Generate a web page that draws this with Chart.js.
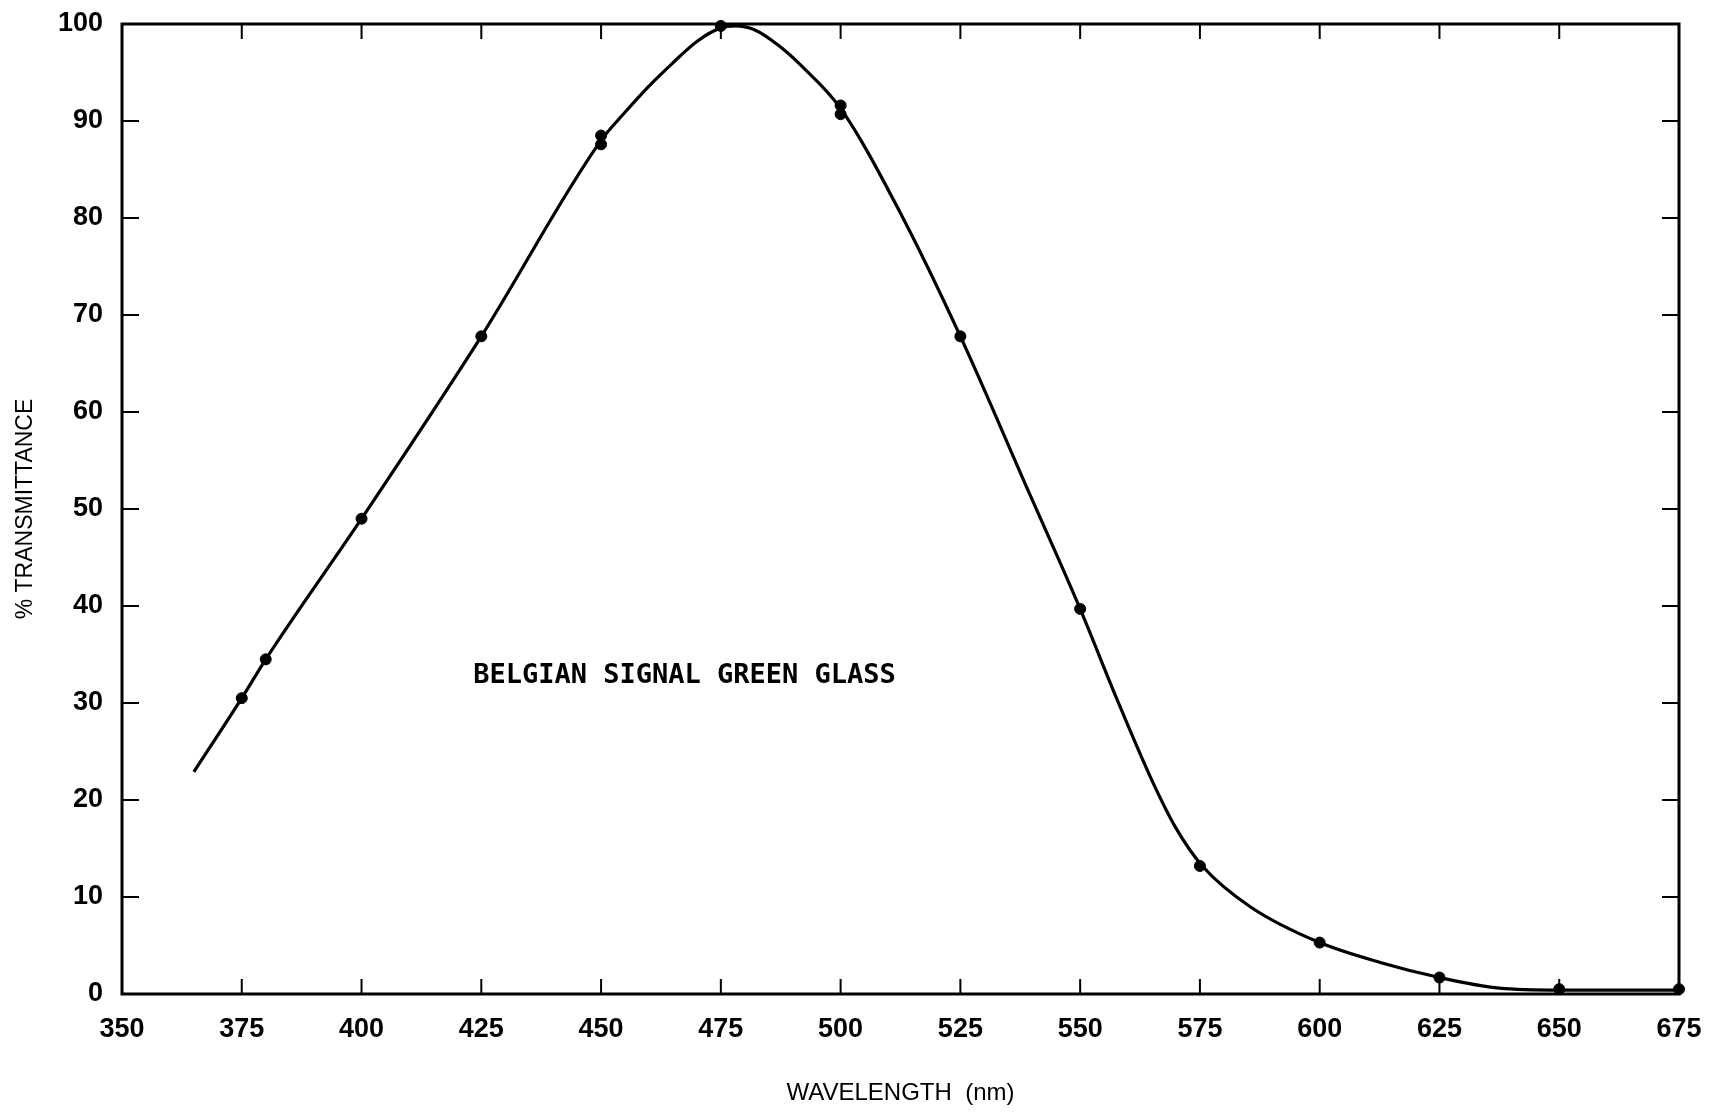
<!DOCTYPE html>
<html>
<head>
<meta charset="utf-8">
<script src="https://cdn.jsdelivr.net/npm/chart.js@4.4.1/dist/chart.umd.min.js"></script>
<style>
  body { margin: 0; background: #fff; }
  canvas { display: block; }
</style>
</head>
<body>
<canvas id="myChart" width="1729" height="1113"></canvas>
<script>
// measured points (dots)
const pointNm = [375, 380, 400, 425, 450, 450, 475, 500, 500, 525, 550, 575, 600, 625, 650, 675];
const pointPct = [30.5, 34.5, 49.0, 67.8, 88.5, 87.6, 99.8, 91.6, 90.7, 67.8, 39.7, 13.2, 5.3, 1.7, 0.5, 0.5];

// drawn curve
const curveNm = [365, 375, 380, 400, 425, 450, 455, 460, 465, 470, 475, 478, 482, 487, 492, 500, 512.5, 525, 539.5, 550, 557.5, 565, 570, 575.5, 585.5, 600, 613, 625, 637.5, 650, 675];
const curvePct = [22.9, 30.5, 34.5, 49.0, 67.8, 88.0, 90.9, 93.6, 96.0, 98.2, 99.6, 99.8, 99.4, 97.8, 95.6, 91.3, 80.5, 67.8, 51.5, 39.7, 30.6, 22.0, 17.1, 13.2, 9.0, 5.3, 3.2, 1.7, 0.6, 0.4, 0.4];

const labelText = "BELGIAN SIGNAL GREEN GLASS";
const xTitle = "WAVELENGTH  (nm)";
const yTitle = "% TRANSMITTANCE";

const tickFont = { family: "'Liberation Sans', Arial, sans-serif", size: 27, weight: "bold" };
const titleFont = { family: "'Liberation Sans', Arial, sans-serif", size: 24, weight: "normal" };

// frame + inward ticks on all four sides
const frame = {
  id: "frame",
  beforeDatasetsDraw(chart) {
    const { ctx, chartArea: a, scales: { x, y } } = chart;
    ctx.save();
    ctx.strokeStyle = "#000";
    ctx.lineWidth = 2;
    ctx.beginPath();
    x.ticks.forEach(t => {
      const px = x.getPixelForValue(t.value);
      ctx.moveTo(px, a.bottom); ctx.lineTo(px, a.bottom - 15);
      ctx.moveTo(px, a.top); ctx.lineTo(px, a.top + 15);
    });
    y.ticks.forEach(t => {
      const py = y.getPixelForValue(t.value);
      ctx.moveTo(a.left, py); ctx.lineTo(a.left + 17, py);
      ctx.moveTo(a.right, py); ctx.lineTo(a.right - 17, py);
    });
    ctx.stroke();
    ctx.lineWidth = 3;
    ctx.strokeRect(a.left, a.top, a.right - a.left, a.bottom - a.top);
    ctx.restore();
  }
};

const annotation = {
  id: "annotation",
  afterDatasetsDraw(chart) {
    const { ctx, scales: { x, y } } = chart;
    ctx.save();
    ctx.font = "bold 27px 'DejaVu Sans Mono', monospace";
    ctx.fillStyle = "#000";
    ctx.textAlign = "left";
    ctx.textBaseline = "middle";
    ctx.fillText(labelText, x.getPixelForValue(423.3), y.getPixelForValue(32.8));
    ctx.restore();
  }
};

const data = {
  datasets: [
    {
      type: "line",
      label: "curve",
      data: curveNm.map((v, i) => ({ x: v, y: curvePct[i] })),
      borderColor: "#000",
      borderWidth: 3.2,
      pointRadius: 0,
      cubicInterpolationMode: "monotone",
      clip: false,
    },
    {
      type: "scatter",
      label: "points",
      data: pointNm.map((v, i) => ({ x: v, y: pointPct[i] })),
      backgroundColor: "#000",
      borderColor: "#000",
      pointRadius: 5.5,
      clip: false,
    },
  ],
};

const config = {
  data: data,
  options: {
    responsive: false,
    animation: false,
    layout: { padding: { top: 24, right: 50, left: 0, bottom: 0 } },
    plugins: { legend: { display: false }, tooltip: { enabled: false } },
    scales: {
      x: {
        type: "linear",
        min: 350,
        max: 675,
        grid: { display: false },
        border: { display: false },
        ticks: { stepSize: 25, color: "#000", font: tickFont, padding: 11, maxRotation: 0 },
        title: { display: true, text: xTitle, color: "#000", font: titleFont, padding: { top: 0, bottom: 5 } },
        afterFit(scale) {
          scale.height = 119;
          scale.paddingLeft = 0;
          scale.paddingRight = 0;
        },
      },
      y: {
        min: 0,
        max: 100,
        grid: { display: false },
        border: { display: false },
        ticks: { stepSize: 10, color: "#000", font: tickFont, padding: 11 },
        title: { display: true, text: yTitle, color: "#000", font: { ...titleFont, size: 23 }, padding: { top: 12, bottom: 0 } },
        afterFit(scale) {
          scale.width = 122;
          scale.paddingTop = 0;
          scale.paddingBottom = 0;
        },
      },
    },
  },
  plugins: [frame, annotation],
};

const ctx = document.getElementById("myChart");
const myChart = new Chart(ctx, config);
</script>
</body>
</html>
